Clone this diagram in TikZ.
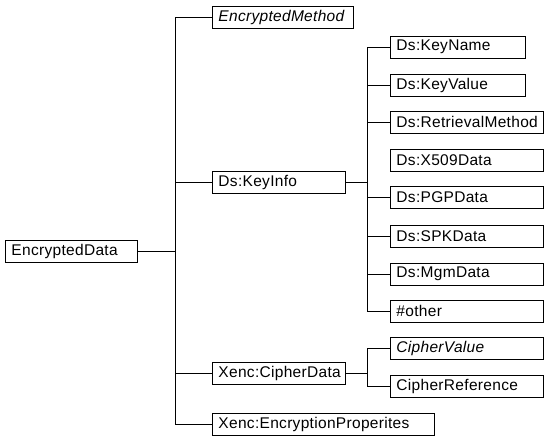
\documentclass[tikz,border=0pt]{standalone}
\usepackage{fontspec}
\setmainfont[LetterSpace=2]{Liberation Sans}
\usetikzlibrary{positioning}

\begin{document}
\begin{tikzpicture}[x=1pt, y=-1pt, line width=0.9pt,
    box/.style={draw, anchor=west, minimum height=22pt, inner xsep=6pt, inner ysep=0pt,
      align=left, font=\fontsize{15.5}{17}\selectfont}]
    \useasboundingbox (0,0) rectangle (544,437);
    \node[box, text width=120pt] (data) at (5,251) {EncryptedData};
    \foreach \n/\y/\w/\t in {method/17/129/\textit{EncryptedMethod}, keyinfo/182/121/Ds:KeyInfo,
        cipher/373/121/Xenc:CipherData, props/424/210/Xenc:EncryptionProperites} {
      \node[box, text width=\w pt] (\n) at (212,\y) {\t};
    }
    \foreach \n/\y/\w/\t in {kname/47/123/Ds:KeyName, kvalue/85/123/Ds:KeyValue,
        kretr/122/141/Ds:RetrievalMethod, x509/160/141/Ds:X509Data, pgp/197/141/Ds:PGPData,
        spk/236/141/Ds:SPKData, mgm/274/141/Ds:MgmData, other/311/141/\#other,
        cvalue/348/141/\textit{CipherValue}, cref/386/141/CipherReference} {
      \node[box, text width=\w pt] (\n) at (390,\y) {\t};
    }
    \coordinate (tjoin) at ([xshift=38pt]data.east);
    \coordinate (kjoin) at ([xshift=22pt]keyinfo.east);
    \coordinate (cjoin) at ([xshift=22pt]cipher.east);
    \draw (data.east) -- (tjoin);
    \draw (keyinfo.east) -- (kjoin);
    \draw (cipher.east) -- (cjoin);
    \foreach \n in {method, keyinfo, cipher, props} {
      \draw (tjoin) |- (\n.west);
    }
    \foreach \n in {kname, kvalue, kretr, pgp, spk, mgm, other} {
      \draw (kjoin) |- (\n.west);
    }
    \foreach \n in {cvalue, cref} {
      \draw (cjoin) |- (\n.west);
    }
  \end{tikzpicture}
\end{document}
